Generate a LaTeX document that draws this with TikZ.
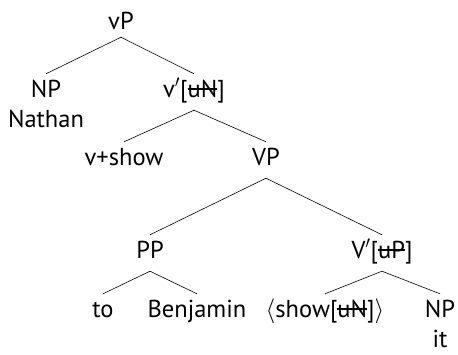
\documentclass[tikz,border=0pt]{standalone}
\usepackage{fontspec}
\setmainfont{PT Sans}
\newsavebox\strkbox
\newcommand{\strk}[1]{\sbox\strkbox{#1}\rlap{\rule[0.3em]{\wd\strkbox}{0.055em}}\usebox\strkbox}
\newcommand{\prm}{\ensuremath{'}}
\begin{document}
\begin{tikzpicture}[x=1pt,y=-1pt,
  lab/.style={inner xsep=0pt, inner ysep=7pt, text height=16pt, text depth=6pt, anchor=base, font=\fontsize{24.5}{28}\selectfont},
  edge/.style={line width=0.6pt}]
\useasboundingbox (0,0) rectangle (458,354);
\node[lab, text depth=1pt] (vP) at (121,29) {vP};
\node[lab] (NP1) at (46,97) {NP};
\node[lab] (nathan) at (46,127) {Nathan};
\node[lab] (vbar) at (194,97) {v\prm[\strk{uN}]};
\node[lab] (vshow) at (124,165) {v+show};
\node[lab] (VP) at (266,165) {VP};
\node[lab] (PP) at (150,258) {PP};
\node[lab] (Vbar) at (382,258) {V\prm[\strk{uP}]};
\node[lab] (to) at (103,317) {to};
\node[lab] (benj) at (197,317) {Benjamin};
\node[lab] (show) at (325,317) {$\langle$show[\strk{uN}]$\rangle$};
\node[lab] (NP2) at (440,317) {NP};
\node[lab] (it) at (440,347) {it};
\draw[edge] (vP.south) -- (NP1.north);
\draw[edge] (vP.south) -- (vbar.north);
\draw[edge] (vbar.south) -- (vshow.north);
\draw[edge] (vbar.south) -- (VP.north);
\draw[edge] (VP.south) -- (PP.north);
\draw[edge] (VP.south) -- (Vbar.north);
\draw[edge] (PP.south) -- (to.north);
\draw[edge] (PP.south) -- (benj.north);
\draw[edge] (Vbar.south) -- (show.north);
\draw[edge] (Vbar.south) -- (NP2.north);
\end{tikzpicture}
\end{document}
